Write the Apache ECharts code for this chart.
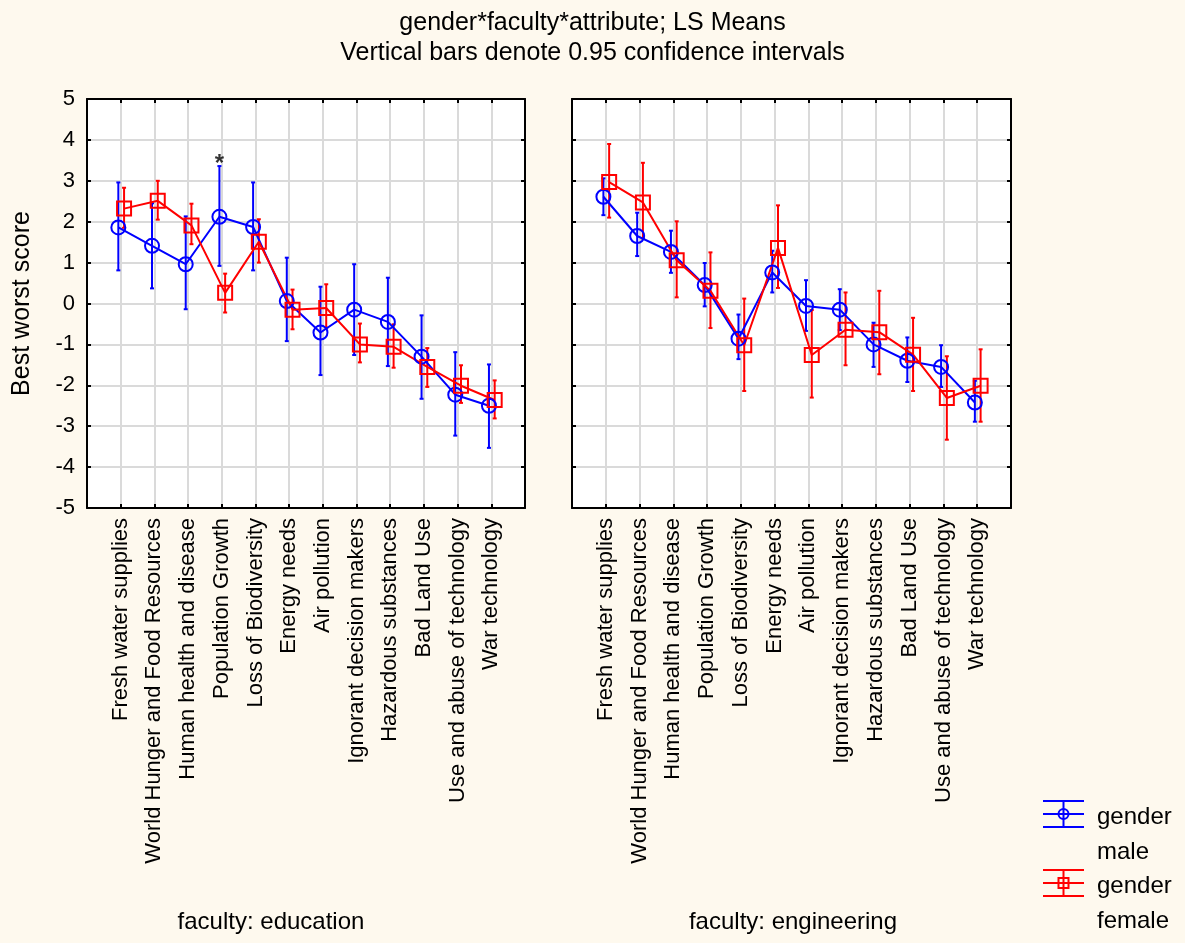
<!DOCTYPE html>
<html>
<head>
<meta charset="utf-8">
<script src="https://cdn.jsdelivr.net/npm/echarts@6/dist/echarts.min.js"></script>
<style>
html,body{margin:0;padding:0;background:#fef9ee;}
#chart{width:1185px;height:943px;}
</style>
</head>
<body>
<div id="chart"></div>
<script>
const categories = ["Fresh water supplies","World Hunger and Food Resources","Human health and disease","Population Growth","Loss of Biodiversity","Energy needs","Air pollution","Ignorant decision makers","Hazardous substances","Bad Land Use","Use and abuse of technology","War technology"];
const yTicks = [-5,-4,-3,-2,-1,0,1,2,3,4,5];
const panels = ["faculty: education","faculty: engineering"];
const groups = ["gender\nmale","gender\nfemale"];

const eduMaleMean = [1.86,1.41,0.96,2.12,1.87,0.06,-0.71,-0.15,-0.45,-1.30,-2.23,-2.50];
const eduMaleLow  = [0.81,0.37,-0.14,0.92,0.81,-0.92,-1.75,-1.26,-1.53,-2.33,-3.23,-3.53];
const eduMaleHigh = [2.96,2.45,2.13,3.36,2.96,1.12,0.41,0.96,0.63,-0.29,-1.19,-1.49];
const eduMaleMark = ["","","","*","","","","","","","",""];

const eduFemaleMean = [2.32,2.51,1.91,0.26,1.51,-0.15,-0.11,-1.00,-1.06,-1.55,-2.01,-2.36];
const eduFemaleLow  = [1.85,2.05,1.45,-0.22,1.00,-0.63,-0.59,-1.44,-1.57,-2.04,-2.43,-2.81];
const eduFemaleHigh = [2.83,3.00,2.44,0.73,2.06,0.34,0.47,-0.49,-0.51,-1.09,-1.51,-1.88];

const engMaleMean = [2.61,1.65,1.26,0.45,-0.86,0.76,-0.06,-0.15,-1.00,-1.40,-1.55,-2.42];
const engMaleLow  = [2.16,1.16,0.75,-0.07,-1.36,0.27,-0.67,-0.65,-1.55,-1.92,-2.04,-2.89];
const engMaleHigh = [3.06,2.22,1.78,0.99,-0.27,1.29,0.57,0.35,-0.47,-0.83,-1.02,-1.89];

const engFemaleMean = [2.97,2.47,1.06,0.31,-1.02,1.36,-1.26,-0.64,-0.70,-1.25,-2.31,-2.01];
const engFemaleLow  = [2.10,1.59,0.15,-0.60,-2.14,0.38,-2.30,-1.51,-1.73,-2.14,-3.33,-2.89];
const engFemaleHigh = [3.90,3.44,2.01,1.25,0.12,2.40,-0.16,0.27,0.31,-0.35,-1.29,-1.12];

const BLUE = '#0000ff', RED = '#ff0000';
const FONT = "'Liberation Sans', Arial, sans-serif";
const MALE_SHIFT = -0.07, FEMALE_SHIFT = 0.1;

const chart = echarts.init(document.getElementById('chart'), null, {renderer:'canvas'});

function errData(low, high, shift){ return low.map((l,i)=>[i+1+shift, l, high[i]]); }
function lineData(mean, shift){ return mean.map((m,i)=>[i+1+shift, m]); }

function errSeries(low, high, shift, color, gi){
  return {
    type:'custom', xAxisIndex:gi*2, yAxisIndex:gi*2, z:3,
    data: errData(low, high, shift),
    encode:{x:0, y:[1,2]},
    silent:true,
    renderItem:function(params, api){
      const x = api.value(0);
      const p1 = api.coord([x, api.value(1)]);
      const p2 = api.coord([x, api.value(2)]);
      const st = {stroke:color, lineWidth:2};
      return {type:'group', children:[
        {type:'line', shape:{x1:p1[0],y1:p1[1],x2:p2[0],y2:p2[1]}, style:st},
        {type:'line', shape:{x1:p1[0]-2,y1:p1[1],x2:p1[0]+2,y2:p1[1]}, style:st},
        {type:'line', shape:{x1:p2[0]-2,y1:p2[1],x2:p2[0]+2,y2:p2[1]}, style:st}
      ]};
    }
  };
}
function meanSeries(name, mean, shift, color, symbol, gi){
  return {
    name:name, type:'line', xAxisIndex:gi*2, yAxisIndex:gi*2, z:4,
    data: lineData(mean, shift),
    symbol:symbol, symbolSize:14, showAllSymbol:true,
    lineStyle:{color:color, width:2},
    itemStyle:{color:'rgba(0,0,0,0)', borderColor:color, borderWidth:2},
    emphasis:{disabled:true}, animation:false
  };
}

const grids = [
  {left:87, top:99, width:438, height:409},
  {left:572, top:99, width:439, height:409}
];
const frameLine = {show:true, onZero:false, lineStyle:{color:'#000', width:2}};
const frameTick = {show:true, inside:true, length:4, lineStyle:{color:'#000', width:2}};
const xAxes = [], yAxes = [];
grids.forEach((g, gi)=>{
  xAxes.push({
    gridIndex:gi, type:'value', min:0, max:13, interval:1, position:'bottom',
    axisLine:frameLine, axisTick:frameTick,
    splitLine:{show:true, lineStyle:{color:'#dadada', width:2}},
    axisLabel:{show:true, rotate:90, margin:10, fontSize:22, color:'#000', fontFamily:FONT,
      formatter:function(v){ return categories[v-1] || ''; }}
  });
  xAxes.push({
    gridIndex:gi, type:'value', min:0, max:13, interval:1, position:'top',
    axisLine:frameLine, axisTick:frameTick,
    splitLine:{show:false}, axisLabel:{show:false}
  });
  yAxes.push({
    gridIndex:gi, type:'value', min:yTicks[0], max:yTicks[yTicks.length-1], interval:1, position:'left',
    name: gi===0 ? 'Best worst score' : '', nameLocation:'middle', nameGap:52,
    nameTextStyle:{fontSize:25, color:'#000', fontFamily:FONT},
    axisLine:frameLine, axisTick:frameTick,
    splitLine:{show:true, lineStyle:{color:'#dadada', width:2}},
    axisLabel:{show:gi===0, margin:12, fontSize:22, color:'#000', fontFamily:FONT,
      formatter:function(v){ return yTicks.indexOf(v)>=0 ? String(v) : ''; }}
  });
  yAxes.push({
    gridIndex:gi, type:'value', min:yTicks[0], max:yTicks[yTicks.length-1], interval:1, position:'right',
    axisLine:frameLine, axisTick:frameTick,
    splitLine:{show:false}, axisLabel:{show:false}
  });
});

const series = [
  errSeries(eduMaleLow, eduMaleHigh, MALE_SHIFT, BLUE, 0),
  meanSeries(groups[0], eduMaleMean, MALE_SHIFT, BLUE, 'circle', 0),
  errSeries(eduFemaleLow, eduFemaleHigh, FEMALE_SHIFT, RED, 0),
  meanSeries(groups[1], eduFemaleMean, FEMALE_SHIFT, RED, 'rect', 0),
  errSeries(engMaleLow, engMaleHigh, MALE_SHIFT, BLUE, 1),
  meanSeries(groups[0], engMaleMean, MALE_SHIFT, BLUE, 'circle', 1),
  errSeries(engFemaleLow, engFemaleHigh, FEMALE_SHIFT, RED, 1),
  meanSeries(groups[1], engFemaleMean, FEMALE_SHIFT, RED, 'rect', 1),
  {
    type:'scatter', xAxisIndex:0, yAxisIndex:0, z:5, symbol:'circle', symbolSize:2, silent:true,
    itemStyle:{color:'rgba(0,0,0,0)'},
    data: eduMaleHigh.map((h,i)=>({value:[i+1+MALE_SHIFT, h], mark:eduMaleMark[i]})).filter(d=>d.mark),
    label:{show:true, position:'top', distance:-11, fontSize:24, fontWeight:'bold', color:'#000', fontFamily:FONT,
      formatter:function(p){ return p.data.mark; }}
  }
];

const legendX = 1043, legendW = 41;
function legendItem(y, color, marker, label){
  const cx = legendX + legendW/2;
  const st = {stroke:color, lineWidth:2, fill:null};
  return [
    {type:'line', shape:{x1:legendX,y1:y-13,x2:legendX+legendW,y2:y-13}, style:st},
    {type:'line', shape:{x1:legendX,y1:y,x2:legendX+legendW,y2:y}, style:st},
    {type:'line', shape:{x1:legendX,y1:y+13,x2:legendX+legendW,y2:y+13}, style:st},
    {type:'line', shape:{x1:cx,y1:y-13,x2:cx,y2:y+13}, style:st},
    marker==='circle'
      ? {type:'circle', shape:{cx:cx, cy:y, r:5}, style:{stroke:color, lineWidth:2, fill:'rgba(0,0,0,0)'}}
      : {type:'rect', shape:{x:cx-5, y:y-5, width:10, height:10}, style:{stroke:color, lineWidth:2, fill:'rgba(0,0,0,0)'}},
    {type:'text', x:1097, y:y-14, style:{text:label, font:'24px '+FONT, fill:'#000', lineHeight:35, textAlign:'left', textVerticalAlign:'top'}}
  ];
}

const option = {
  backgroundColor:'#fef9ee',
  animation:false,
  title:[
    {text:'gender*faculty*attribute; LS Means', left:'center', top:6,
      textStyle:{fontSize:25, fontWeight:'normal', color:'#000', fontFamily:FONT}},
    {text:'Vertical bars denote 0.95 confidence intervals', left:'center', top:36,
      textStyle:{fontSize:25, fontWeight:'normal', color:'#000', fontFamily:FONT}}
  ],
  grid: grids.map(g=>Object.assign({backgroundColor:'#ffffff', show:true, borderWidth:0}, g)),
  xAxis: xAxes,
  yAxis: yAxes,
  series: series,
  graphic: [
    {type:'text', x:271, y:922, style:{text:panels[0], font:'24px '+FONT, fill:'#000', textAlign:'center', textVerticalAlign:'middle'}},
    {type:'text', x:793, y:922, style:{text:panels[1], font:'24px '+FONT, fill:'#000', textAlign:'center', textVerticalAlign:'middle'}},
    ...legendItem(814, BLUE, 'circle', groups[0]),
    ...legendItem(883, RED, 'rect', groups[1])
  ]
};
chart.setOption(option);
</script>
</body>
</html>
